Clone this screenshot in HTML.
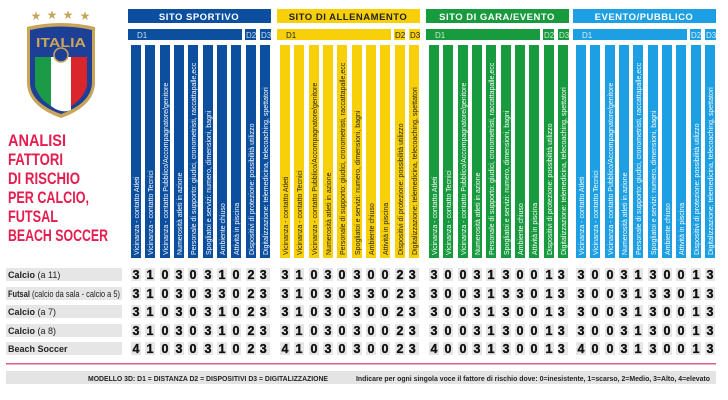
<!DOCTYPE html>
<html><head><meta charset="utf-8"><style>
html,body{margin:0;padding:0;background:#fff;}
svg{display:block;font-family:"Liberation Sans",sans-serif;}
.lab{font-size:7px;fill:#fff;}
.num{font-size:12.5px;font-weight:bold;fill:#111;text-anchor:middle;stroke:#111;stroke-width:0.35;}
.nb{fill:#e6e6e6;}
.rl{font-size:9px;fill:#222;}
.tt{font-size:17px;font-weight:bold;fill:#e41d4e;}
</style></head><body>
<svg width="728" height="400" viewBox="0 0 728 400">
<g fill="#c9a55a">
<text x="36" y="20" font-size="12" text-anchor="middle">★</text>
<text x="52" y="19" font-size="12" text-anchor="middle">★</text>
<text x="68" y="19" font-size="12" text-anchor="middle">★</text>
<text x="85" y="20" font-size="12" text-anchor="middle">★</text>
</g>
<path d="M27,27 Q61,19 95,27 L95,82 Q95,106 61,118 Q27,106 27,82 Z" fill="#c9a55a"/>
<path d="M30,30 Q61,23 92,30 L92,82 Q92,103 61,114 Q30,103 30,82 Z" fill="#1d3f95"/>
<text x="61" y="47" font-size="13" font-weight="bold" fill="#c9a55a" text-anchor="middle" textLength="50" lengthAdjust="spacingAndGlyphs">ITALIA</text>
<path d="M35,57 L51,57 L51,106 Q39,99 35,86 Z" fill="#1b9a48"/>
<path d="M51,57 L71,57 L71,110 Q61,114 51,106 Z" fill="#fff"/>
<path d="M71,57 L87,57 L87,86 Q83,99 71,106 Z" fill="#d9252b"/>
<circle cx="61" cy="55" r="7" fill="#1d3f95" stroke="#c9a55a" stroke-width="1.5"/>
<text class="tt" x="8" y="146" textLength="58" lengthAdjust="spacingAndGlyphs">ANALISI</text>
<text class="tt" x="8" y="165" textLength="55" lengthAdjust="spacingAndGlyphs">FATTORI</text>
<text class="tt" x="8" y="184" textLength="72" lengthAdjust="spacingAndGlyphs">DI RISCHIO</text>
<text class="tt" x="8" y="203" textLength="81" lengthAdjust="spacingAndGlyphs">PER CALCIO,</text>
<text class="tt" x="8" y="222" textLength="50" lengthAdjust="spacingAndGlyphs">FUTSAL</text>
<text class="tt" x="8" y="241" textLength="100" lengthAdjust="spacingAndGlyphs">BEACH SOCCER</text>
<g>
<rect class="nb" x="6" y="268" width="116" height="13"/>
<rect class="nb" x="6" y="287" width="116" height="13"/>
<rect class="nb" x="6" y="305" width="116" height="13"/>
<rect class="nb" x="6" y="324" width="116" height="13"/>
<rect class="nb" x="6" y="342" width="116" height="13"/>
<text class="rl" x="8" y="278"><tspan font-weight="bold">Calcio</tspan> (a 11)</text>
<text class="rl" x="8" y="297" textLength="112" lengthAdjust="spacingAndGlyphs"><tspan font-weight="bold">Futsal</tspan> (calcio da sala - calcio a 5)</text>
<text class="rl" x="8" y="315"><tspan font-weight="bold">Calcio</tspan> (a 7)</text>
<text class="rl" x="8" y="334"><tspan font-weight="bold">Calcio</tspan> (a 8)</text>
<text class="rl" x="8" y="352" font-weight="bold">Beach Soccer</text>
</g>

<g>
<rect x="128" y="9" width="143" height="14" fill="#0b4f9e"/>
<text x="199" y="20" font-size="9.5" font-weight="bold" fill="#fff" text-anchor="middle" letter-spacing="0.5">SITO SPORTIVO</text>
<rect x="128" y="29" width="114" height="11" fill="#0b4f9e"/><text x="137" y="38" font-size="8" fill="#cde">D1</text>
<rect x="245" y="29" width="11" height="11" fill="#0b4f9e"/><text x="246" y="38" font-size="8" fill="#cde">D2</text>
<rect x="260" y="29" width="11" height="11" fill="#0b4f9e"/><text x="261" y="38" font-size="8" fill="#cde">D3</text>
<g fill="#0b4f9e">
<rect x="131" y="45" width="10" height="213"/><rect x="145" y="45" width="10" height="213"/><rect x="160" y="45" width="10" height="213"/><rect x="174" y="45" width="10" height="213"/><rect x="188" y="45" width="10" height="213"/><rect x="203" y="45" width="10" height="213"/><rect x="217" y="45" width="10" height="213"/><rect x="231" y="45" width="10" height="213"/><rect x="246" y="45" width="10" height="213"/><rect x="260" y="45" width="10" height="213"/>
</g>
<g class="lab">
<text transform="translate(139,255) rotate(-90)">Vicinanza - contatto Atleti</text>
<text transform="translate(153,255) rotate(-90)">Vicinanza - contatto Tecnici</text>
<text transform="translate(168,255) rotate(-90)">Vicinanza - contatto Pubblico/Accompagnatore/genitore</text>
<text transform="translate(182,255) rotate(-90)">Numerosità atleti in azione</text>
<text transform="translate(196,255) rotate(-90)">Personale di supporto: giudici, cronometristi, raccattapalle,ecc</text>
<text transform="translate(211,255) rotate(-90)">Spogliatoi e servizi: numero, dimensioni, bagni</text>
<text transform="translate(225,255) rotate(-90)">Ambiente chiuso</text>
<text transform="translate(239,255) rotate(-90)">Attività in piscina</text>
<text transform="translate(254,255) rotate(-90)">Dispositivi di protezione: possibilità utilizzo</text>
<text transform="translate(268,255) rotate(-90)">Digitalizzazione: telemedicina, telecoaching, spettatori</text>
</g>
</g>

<g transform="translate(149,0)">
<rect x="128" y="9" width="143" height="14" fill="#f8d00a"/>
<text x="199" y="20" font-size="9.5" font-weight="bold" fill="#222" text-anchor="middle" letter-spacing="0.5">SITO DI ALLENAMENTO</text>
<rect x="128" y="29" width="114" height="11" fill="#f8d00a"/><text x="137" y="38" font-size="8" fill="#222">D1</text>
<rect x="245" y="29" width="11" height="11" fill="#f8d00a"/><text x="246" y="38" font-size="8" fill="#222">D2</text>
<rect x="260" y="29" width="11" height="11" fill="#f8d00a"/><text x="261" y="38" font-size="8" fill="#222">D3</text>
<g fill="#f8d00a">
<rect x="131" y="45" width="10" height="213"/><rect x="145" y="45" width="10" height="213"/><rect x="160" y="45" width="10" height="213"/><rect x="174" y="45" width="10" height="213"/><rect x="188" y="45" width="10" height="213"/><rect x="203" y="45" width="10" height="213"/><rect x="217" y="45" width="10" height="213"/><rect x="231" y="45" width="10" height="213"/><rect x="246" y="45" width="10" height="213"/><rect x="260" y="45" width="10" height="213"/>
</g>
<g class="lab" style="fill:#222">
<text transform="translate(139,255) rotate(-90)">Vicinanza - contatto Atleti</text>
<text transform="translate(153,255) rotate(-90)">Vicinanza - contatto Tecnici</text>
<text transform="translate(168,255) rotate(-90)">Vicinanza - contatto Pubblico/Accompagnatore/genitore</text>
<text transform="translate(182,255) rotate(-90)">Numerosità atleti in azione</text>
<text transform="translate(196,255) rotate(-90)">Personale di supporto: giudici, cronometristi, raccattapalle,ecc</text>
<text transform="translate(211,255) rotate(-90)">Spogliatoi e servizi: numero, dimensioni, bagni</text>
<text transform="translate(225,255) rotate(-90)">Ambiente chiuso</text>
<text transform="translate(239,255) rotate(-90)">Attività in piscina</text>
<text transform="translate(254,255) rotate(-90)">Dispositivi di protezione: possibilità utilizzo</text>
<text transform="translate(268,255) rotate(-90)">Digitalizzazione: telemedicina, telecoaching, spettatori</text>
</g>
</g>

<g transform="translate(298,0)">
<rect x="128" y="9" width="143" height="14" fill="#189a3f"/>
<text x="199" y="20" font-size="9.5" font-weight="bold" fill="#fff" text-anchor="middle" letter-spacing="0.5">SITO DI GARA/EVENTO</text>
<rect x="128" y="29" width="114" height="11" fill="#189a3f"/><text x="137" y="38" font-size="8" fill="#cec">D1</text>
<rect x="245" y="29" width="11" height="11" fill="#189a3f"/><text x="246" y="38" font-size="8" fill="#cec">D2</text>
<rect x="260" y="29" width="11" height="11" fill="#189a3f"/><text x="261" y="38" font-size="8" fill="#cec">D3</text>
<g fill="#189a3f">
<rect x="131" y="45" width="10" height="213"/><rect x="145" y="45" width="10" height="213"/><rect x="160" y="45" width="10" height="213"/><rect x="174" y="45" width="10" height="213"/><rect x="188" y="45" width="10" height="213"/><rect x="203" y="45" width="10" height="213"/><rect x="217" y="45" width="10" height="213"/><rect x="231" y="45" width="10" height="213"/><rect x="246" y="45" width="10" height="213"/><rect x="260" y="45" width="10" height="213"/>
</g>
<g class="lab">
<text transform="translate(139,255) rotate(-90)">Vicinanza - contatto Atleti</text>
<text transform="translate(153,255) rotate(-90)">Vicinanza - contatto Tecnici</text>
<text transform="translate(168,255) rotate(-90)">Vicinanza - contatto Pubblico/Accompagnatore/genitore</text>
<text transform="translate(182,255) rotate(-90)">Numerosità atleti in azione</text>
<text transform="translate(196,255) rotate(-90)">Personale di supporto: giudici, cronometristi, raccattapalle,ecc</text>
<text transform="translate(211,255) rotate(-90)">Spogliatoi e servizi: numero, dimensioni, bagni</text>
<text transform="translate(225,255) rotate(-90)">Ambiente chiuso</text>
<text transform="translate(239,255) rotate(-90)">Attività in piscina</text>
<text transform="translate(254,255) rotate(-90)">Dispositivi di protezione: possibilità utilizzo</text>
<text transform="translate(268,255) rotate(-90)">Digitalizzazione: telemedicina, telecoaching, spettatori</text>
</g>
</g>

<g transform="translate(445,0)">
<rect x="128" y="9" width="143" height="14" fill="#1d9fe3"/>
<text x="199" y="20" font-size="9.5" font-weight="bold" fill="#fff" text-anchor="middle" letter-spacing="0.5">EVENTO/PUBBLICO</text>
<rect x="128" y="29" width="114" height="11" fill="#1d9fe3"/><text x="137" y="38" font-size="8" fill="#def">D1</text>
<rect x="245" y="29" width="11" height="11" fill="#1d9fe3"/><text x="246" y="38" font-size="8" fill="#def">D2</text>
<rect x="260" y="29" width="11" height="11" fill="#1d9fe3"/><text x="261" y="38" font-size="8" fill="#def">D3</text>
<g fill="#1d9fe3">
<rect x="131" y="45" width="10" height="213"/><rect x="145" y="45" width="10" height="213"/><rect x="160" y="45" width="10" height="213"/><rect x="174" y="45" width="10" height="213"/><rect x="188" y="45" width="10" height="213"/><rect x="203" y="45" width="10" height="213"/><rect x="217" y="45" width="10" height="213"/><rect x="231" y="45" width="10" height="213"/><rect x="246" y="45" width="10" height="213"/><rect x="260" y="45" width="10" height="213"/>
</g>
<g class="lab">
<text transform="translate(139,255) rotate(-90)">Vicinanza - contatto Atleti</text>
<text transform="translate(153,255) rotate(-90)">Vicinanza - contatto Tecnici</text>
<text transform="translate(168,255) rotate(-90)">Vicinanza - contatto Pubblico/Accompagnatore/genitore</text>
<text transform="translate(182,255) rotate(-90)">Numerosità atleti in azione</text>
<text transform="translate(196,255) rotate(-90)">Personale di supporto: giudici, cronometristi, raccattapalle,ecc</text>
<text transform="translate(211,255) rotate(-90)">Spogliatoi e servizi: numero, dimensioni, bagni</text>
<text transform="translate(225,255) rotate(-90)">Ambiente chiuso</text>
<text transform="translate(239,255) rotate(-90)">Attività in piscina</text>
<text transform="translate(254,255) rotate(-90)">Dispositivi di protezione: possibilità utilizzo</text>
<text transform="translate(268,255) rotate(-90)">Digitalizzazione: telemedicina, telecoaching, spettatori</text>
</g>
</g>

<g class="nb">
<rect x="128" y="268" width="592" height="13"/>
<rect x="128" y="287" width="592" height="13"/>
<rect x="128" y="305" width="592" height="13"/>
<rect x="128" y="324" width="592" height="13"/>
<rect x="128" y="342" width="592" height="13"/>
</g>
<g fill="#fff">
<rect x="141" y="266" width="4" height="92"/><rect x="155" y="266" width="5" height="92"/><rect x="170" y="266" width="4" height="92"/><rect x="184" y="266" width="4" height="92"/><rect x="198" y="266" width="5" height="92"/><rect x="213" y="266" width="4" height="92"/><rect x="227" y="266" width="4" height="92"/><rect x="241" y="266" width="5" height="92"/><rect x="256" y="266" width="4" height="92"/><rect x="270" y="266" width="10" height="92"/>
<rect x="290" y="266" width="4" height="92"/><rect x="304" y="266" width="5" height="92"/><rect x="319" y="266" width="4" height="92"/><rect x="333" y="266" width="4" height="92"/><rect x="347" y="266" width="5" height="92"/><rect x="362" y="266" width="4" height="92"/><rect x="376" y="266" width="4" height="92"/><rect x="390" y="266" width="5" height="92"/><rect x="405" y="266" width="4" height="92"/><rect x="419" y="266" width="10" height="92"/>
<rect x="439" y="266" width="4" height="92"/><rect x="453" y="266" width="5" height="92"/><rect x="468" y="266" width="4" height="92"/><rect x="482" y="266" width="4" height="92"/><rect x="496" y="266" width="5" height="92"/><rect x="511" y="266" width="4" height="92"/><rect x="525" y="266" width="4" height="92"/><rect x="539" y="266" width="5" height="92"/><rect x="554" y="266" width="4" height="92"/><rect x="568" y="266" width="8" height="92"/>
<rect x="586" y="266" width="4" height="92"/><rect x="600" y="266" width="5" height="92"/><rect x="615" y="266" width="4" height="92"/><rect x="629" y="266" width="4" height="92"/><rect x="643" y="266" width="5" height="92"/><rect x="658" y="266" width="4" height="92"/><rect x="672" y="266" width="4" height="92"/><rect x="686" y="266" width="5" height="92"/><rect x="701" y="266" width="4" height="92"/><rect x="715" y="266" width="10" height="92"/>
<rect x="122" y="266" width="9" height="92"/>
</g>

<g class="num">
<text y="279"><tspan x="136">3</tspan><tspan x="150">1</tspan><tspan x="165">0</tspan><tspan x="179">3</tspan><tspan x="193">0</tspan><tspan x="208">3</tspan><tspan x="222">1</tspan><tspan x="236">0</tspan><tspan x="251">2</tspan><tspan x="265">3</tspan>
<tspan x="285">3</tspan><tspan x="299">1</tspan><tspan x="314">0</tspan><tspan x="328">3</tspan><tspan x="342">0</tspan><tspan x="357">3</tspan><tspan x="371">0</tspan><tspan x="385">0</tspan><tspan x="400">2</tspan><tspan x="414">3</tspan>
<tspan x="434">3</tspan><tspan x="448">0</tspan><tspan x="463">0</tspan><tspan x="477">3</tspan><tspan x="491">1</tspan><tspan x="506">3</tspan><tspan x="520">0</tspan><tspan x="534">0</tspan><tspan x="549">1</tspan><tspan x="563">3</tspan>
<tspan x="581">3</tspan><tspan x="595">0</tspan><tspan x="610">0</tspan><tspan x="624">3</tspan><tspan x="638">1</tspan><tspan x="653">3</tspan><tspan x="667">0</tspan><tspan x="681">0</tspan><tspan x="696">1</tspan><tspan x="710">3</tspan></text>
<text y="298"><tspan x="136">3</tspan><tspan x="150">1</tspan><tspan x="165">0</tspan><tspan x="179">3</tspan><tspan x="193">0</tspan><tspan x="208">3</tspan><tspan x="222">3</tspan><tspan x="236">0</tspan><tspan x="251">2</tspan><tspan x="265">3</tspan>
<tspan x="285">3</tspan><tspan x="299">1</tspan><tspan x="314">0</tspan><tspan x="328">3</tspan><tspan x="342">0</tspan><tspan x="357">3</tspan><tspan x="371">3</tspan><tspan x="385">0</tspan><tspan x="400">2</tspan><tspan x="414">3</tspan>
<tspan x="434">3</tspan><tspan x="448">0</tspan><tspan x="463">0</tspan><tspan x="477">3</tspan><tspan x="491">1</tspan><tspan x="506">3</tspan><tspan x="520">3</tspan><tspan x="534">0</tspan><tspan x="549">1</tspan><tspan x="563">3</tspan>
<tspan x="581">3</tspan><tspan x="595">0</tspan><tspan x="610">0</tspan><tspan x="624">3</tspan><tspan x="638">1</tspan><tspan x="653">3</tspan><tspan x="667">3</tspan><tspan x="681">0</tspan><tspan x="696">1</tspan><tspan x="710">3</tspan></text>
<text y="316"><tspan x="136">3</tspan><tspan x="150">1</tspan><tspan x="165">0</tspan><tspan x="179">3</tspan><tspan x="193">0</tspan><tspan x="208">3</tspan><tspan x="222">1</tspan><tspan x="236">0</tspan><tspan x="251">2</tspan><tspan x="265">3</tspan>
<tspan x="285">3</tspan><tspan x="299">1</tspan><tspan x="314">0</tspan><tspan x="328">3</tspan><tspan x="342">0</tspan><tspan x="357">3</tspan><tspan x="371">0</tspan><tspan x="385">0</tspan><tspan x="400">2</tspan><tspan x="414">3</tspan>
<tspan x="434">3</tspan><tspan x="448">0</tspan><tspan x="463">0</tspan><tspan x="477">3</tspan><tspan x="491">1</tspan><tspan x="506">3</tspan><tspan x="520">0</tspan><tspan x="534">0</tspan><tspan x="549">1</tspan><tspan x="563">3</tspan>
<tspan x="581">3</tspan><tspan x="595">0</tspan><tspan x="610">0</tspan><tspan x="624">3</tspan><tspan x="638">1</tspan><tspan x="653">3</tspan><tspan x="667">0</tspan><tspan x="681">0</tspan><tspan x="696">1</tspan><tspan x="710">3</tspan></text>
<text y="335"><tspan x="136">3</tspan><tspan x="150">1</tspan><tspan x="165">0</tspan><tspan x="179">3</tspan><tspan x="193">0</tspan><tspan x="208">3</tspan><tspan x="222">1</tspan><tspan x="236">0</tspan><tspan x="251">2</tspan><tspan x="265">3</tspan>
<tspan x="285">3</tspan><tspan x="299">1</tspan><tspan x="314">0</tspan><tspan x="328">3</tspan><tspan x="342">0</tspan><tspan x="357">3</tspan><tspan x="371">0</tspan><tspan x="385">0</tspan><tspan x="400">2</tspan><tspan x="414">3</tspan>
<tspan x="434">3</tspan><tspan x="448">0</tspan><tspan x="463">0</tspan><tspan x="477">3</tspan><tspan x="491">1</tspan><tspan x="506">3</tspan><tspan x="520">0</tspan><tspan x="534">0</tspan><tspan x="549">1</tspan><tspan x="563">3</tspan>
<tspan x="581">3</tspan><tspan x="595">0</tspan><tspan x="610">0</tspan><tspan x="624">3</tspan><tspan x="638">1</tspan><tspan x="653">3</tspan><tspan x="667">0</tspan><tspan x="681">0</tspan><tspan x="696">1</tspan><tspan x="710">3</tspan></text>
<text y="353"><tspan x="136">4</tspan><tspan x="150">1</tspan><tspan x="165">0</tspan><tspan x="179">3</tspan><tspan x="193">0</tspan><tspan x="208">3</tspan><tspan x="222">1</tspan><tspan x="236">0</tspan><tspan x="251">2</tspan><tspan x="265">3</tspan>
<tspan x="285">4</tspan><tspan x="299">1</tspan><tspan x="314">0</tspan><tspan x="328">3</tspan><tspan x="342">0</tspan><tspan x="357">3</tspan><tspan x="371">0</tspan><tspan x="385">0</tspan><tspan x="400">2</tspan><tspan x="414">3</tspan>
<tspan x="434">4</tspan><tspan x="448">0</tspan><tspan x="463">0</tspan><tspan x="477">3</tspan><tspan x="491">1</tspan><tspan x="506">3</tspan><tspan x="520">0</tspan><tspan x="534">0</tspan><tspan x="549">1</tspan><tspan x="563">3</tspan>
<tspan x="581">4</tspan><tspan x="595">0</tspan><tspan x="610">0</tspan><tspan x="624">3</tspan><tspan x="638">1</tspan><tspan x="653">3</tspan><tspan x="667">0</tspan><tspan x="681">0</tspan><tspan x="696">1</tspan><tspan x="710">3</tspan></text>
</g>

<rect x="6" y="363" width="710" height="1.5" fill="#e05a8a"/>
<rect x="6" y="371" width="710" height="13" fill="#e4e4e4"/>
<text x="88" y="381" font-size="7.5" font-weight="bold" fill="#222" textLength="240" lengthAdjust="spacingAndGlyphs">MODELLO 3D: D1 = DISTANZA     D2 = DISPOSITIVI     D3 = DIGITALIZZAZIONE</text>
<text x="356" y="381" font-size="7.5" font-weight="bold" fill="#222" textLength="354" lengthAdjust="spacingAndGlyphs">Indicare per ogni singola voce il fattore di rischio dove: 0=inesistente, 1=scarso, 2=Medio, 3=Alto, 4=elevato</text>
</svg>
</body></html>
